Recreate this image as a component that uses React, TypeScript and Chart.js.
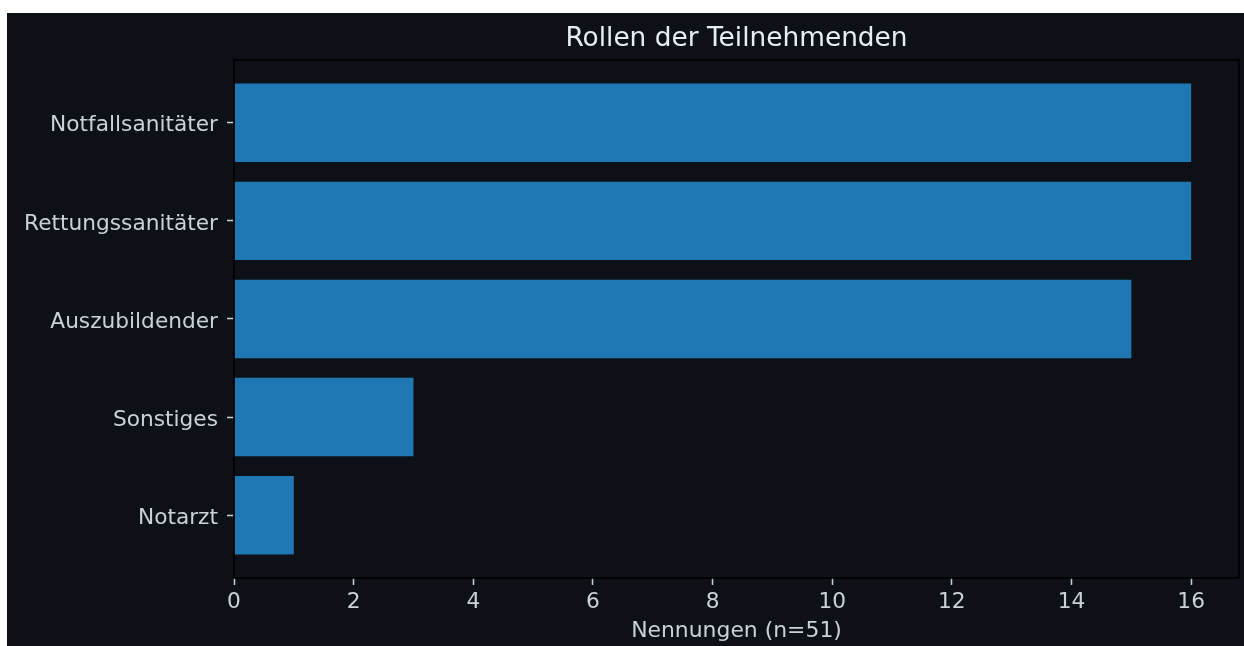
import React, { useEffect, useRef } from "react";
import { Chart, registerables } from "chart.js";

Chart.register(...registerables);

const categories = ["Notfallsanitäter", "Rettungssanitäter", "Auszubildender", "Sonstiges", "Notarzt"];
const counts = [16, 16, 15, 3, 1];
const xTicks = [0, 2, 4, 6, 8, 10, 12, 14, 16];
const titleText = "Rollen der Teilnehmenden";
const xLabel = "Nennungen (n=51)";

const BG = "#0d1117";
const TEXT = "#c9d1d9";
const TITLE = "#e6edf3";
const BAR = "#1f77b4";
const FONT = "'DejaVu Sans', sans-serif";

const boxPlugin = {
  id: "spineBox",
  afterDatasetsDraw(chart: any) {
    const { ctx, chartArea } = chart;
    ctx.save();
    ctx.strokeStyle = "#000000";
    ctx.lineWidth = 1.7;
    ctx.strokeRect(chartArea.left, chartArea.top, chartArea.right - chartArea.left, chartArea.bottom - chartArea.top);
    ctx.restore();
  },
};

const bgPlugin = {
  id: "bgFill",
  beforeDraw(chart: any) {
    const { ctx, width, height } = chart;
    ctx.save();
    ctx.fillStyle = BG;
    ctx.fillRect(0, 0, width, height);
    ctx.restore();
  },
};

export default function App() {
  const ref = useRef<HTMLCanvasElement>(null);
  useEffect(() => {
    if (!ref.current) return;
    const chart = new Chart(ref.current, {
      type: "bar",
      data: {
        datasets: [
          {
            data: counts.map((v, i) => ({ x: v, y: i })),
            backgroundColor: BAR,
            borderWidth: 0,
            barPercentage: 0.8,
            categoryPercentage: 1.0,
          },
        ],
      },
      options: {
        indexAxis: "y",
        responsive: false,
        animation: false,
        layout: { padding: { left: 0, right: 5, top: 0, bottom: 0 } },
        plugins: {
          legend: { display: false },
          tooltip: { enabled: false },
          title: {
            display: true,
            text: titleText,
            color: TITLE,
            fullSize: false,
            font: { family: FONT, size: 26.4, weight: "normal" },
            padding: { top: 10, bottom: 5.3 },
          },
        },
        scales: {
          x: {
            type: "linear",
            min: 0,
            max: 16.8,
            afterBuildTicks: (axis: any) => {
              axis.ticks = xTicks.map((v) => ({ value: v }));
            },
            afterFit: (scale: any) => {
              scale.height = 68;
            },
            grid: {
              display: true,
              drawOnChartArea: false,
              drawTicks: true,
              tickLength: 7,
              tickWidth: 1.5,
              tickColor: TEXT,
            },
            border: { display: false },
            ticks: {
              color: TEXT,
              font: { family: FONT, size: 21.7 },
              padding: 4,
              maxRotation: 0,
            },
            title: {
              display: true,
              text: xLabel,
              color: TEXT,
              font: { family: FONT, size: 21.9 },
              padding: { top: 0, bottom: 2 },
            },
          },
          y: {
            type: "linear",
            min: -0.64,
            max: 4.64,
            reverse: true,
            offset: false,
            afterBuildTicks: (axis: any) => {
              axis.ticks = categories.map((_, i) => ({ value: i }));
            },
            afterFit: (scale: any) => {
              scale.width = 227;
            },
            grid: {
              display: true,
              offset: false,
              drawOnChartArea: false,
              drawTicks: true,
              tickLength: 7,
              tickWidth: 1.5,
              tickColor: TEXT,
            },
            border: { display: false },
            ticks: {
              color: TEXT,
              font: { family: FONT, size: 21.7 },
              padding: 9,
              labelOffset: 3,
              autoSkip: false,
              callback: (value: any) => categories[Math.round(Number(value))] ?? "",
            },
          },
        },
      },
      plugins: [bgPlugin, boxPlugin],
    } as any);
    return () => chart.destroy();
  }, []);

  return (
    <div style={{ position: "fixed", left: 7, top: 13, width: 1237, height: 633, background: BG }}>
      <canvas ref={ref} width={1237} height={633} style={{ width: 1237, height: 633, display: "block" }} />
    </div>
  );
}
